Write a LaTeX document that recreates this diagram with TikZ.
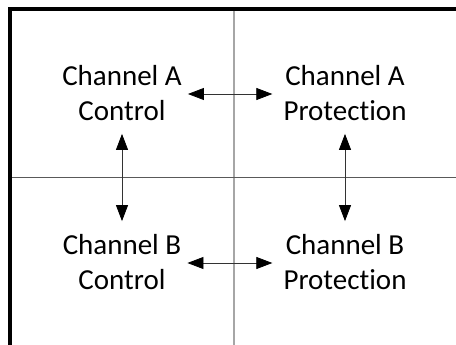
\documentclass[tikz,border=0pt]{standalone}
\usepackage{fontspec}
\setmainfont[Ligatures={NoCommon}]{Carlito}
\usetikzlibrary{arrows.meta}
\tikzset{
  lbl/.style={align=center, inner sep=0pt, font=\fontsize{29}{35}\selectfont},
  arr/.style={draw=black!80, line width=0.8pt, {Triangle[length=16pt,width=12pt,color=black]}-{Triangle[length=16pt,width=12pt,color=black]}},
  frame/.style={draw=black, line width=4pt},
  vgrid/.style={draw=black!35, line width=1.5pt},
  hgrid/.style={draw=black!65, line width=1pt}
}
\begin{document}
\begin{tikzpicture}[x=1pt,y=-1pt]
\useasboundingbox (0,0) rectangle (456,345);
\draw[vgrid] (234,10) -- (234,345);
\draw[hgrid] (10,178) -- (456,178);
\draw[frame] (9.5,345) -- (9.5,9.5) -- (456,9.5);
\node[lbl] (ac) at (122,93) {Channel A\\Control};
\node[lbl] (ap) at (345,93) {Channel A\\Protection};
\node[lbl] (bc) at (122,262) {Channel B\\Control};
\node[lbl] (bp) at (345,262) {Channel B\\Protection};
\draw[arr] ([xshift=6pt,yshift=-1pt]ac.east) -- ([xshift=-11pt,yshift=-1pt]ap.west);
\draw[arr] ([xshift=6pt,yshift=-1pt]bc.east) -- ([xshift=-11pt,yshift=-1pt]bp.west);
\draw[arr] ([yshift=-13pt]ac.south) -- ([yshift=13pt]bc.north);
\draw[arr] ([yshift=-13pt]ap.south) -- ([yshift=13pt]bp.north);
\end{tikzpicture}
\end{document}
